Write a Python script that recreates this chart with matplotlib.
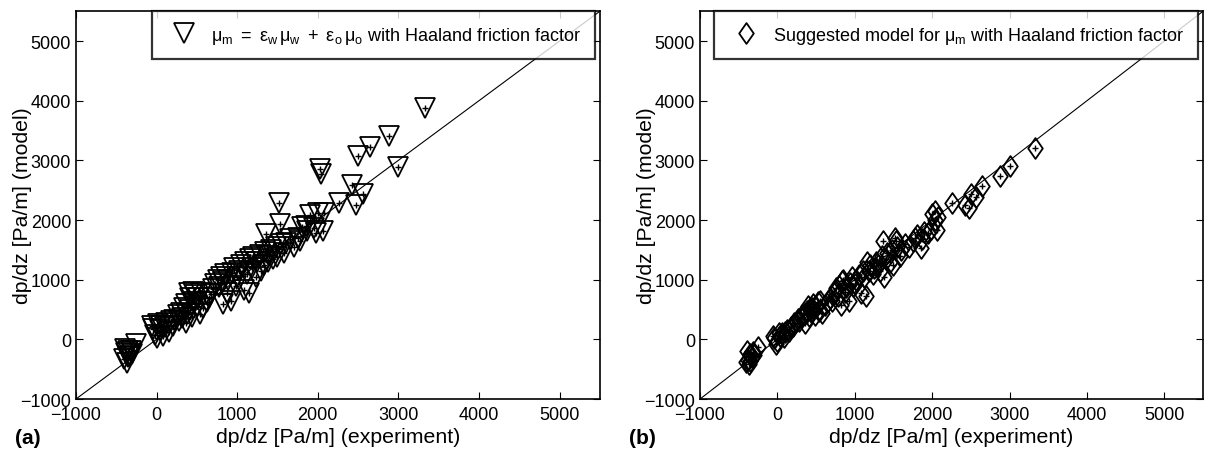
import matplotlib
matplotlib.use("Agg")
import matplotlib.pyplot as plt
from matplotlib.path import Path

plt.rcParams["font.family"] = ["Liberation Sans", "DejaVu Sans"]
plt.rcParams["mathtext.fontset"] = "custom"
plt.rcParams["mathtext.rm"] = "Liberation Sans"
plt.rcParams["mathtext.it"] = "Liberation Sans:italic"

# measured pressure gradient (experiment) [Pa/m]
exp_dpdz = [
    -400, -380, -370, -350, -330, -390, -300, -250, -360, -320,
    -60, -40, -20, 0, 20, 40, 60, 80, 100, 120, 150, 180, 200, 220,
    260, 280, 300, 320, 340, 360, 370, 380, 400, 410, 420, 440, 450, 460,
    480, 500, 520, 540, 550, 570,
    620, 650, 680, 700, 730, 760, 780, 800, 820, 830, 850, 870, 890, 920,
    940, 960, 980, 1000,
    1020, 1050, 1080, 1100, 1120, 1150, 1160, 1180, 1200, 1230, 1250, 1280,
    1300, 1330, 1350, 1380, 1400,
    1420, 1450, 1480, 1500, 1520, 1530, 1550, 1580, 1600, 1650, 1700, 1750,
    1780, 1800, 1850, 1870, 1900, 1950, 1980, 2000, 2030, 2040, 2060, 2080, 1360,
    2260, 2430, 2480, 2500, 2560, 2650, 2880, 3000, 3330,
]

# model (a): mixture viscosity as volume-weighted average
model_a = [
    -330, -230, -400, -200, -280, -170, -240, -70, -300, -190,
    230, 180, 80, 30, 260, 150, 230, 60, 200, 280, 120, 300, 230, 330,
    400, 300, 450, 350, 520, 280, 600, 430, 770, 500, 690, 370, 800, 620,
    740, 560, 700, 430, 780, 520,
    620, 700, 760, 850, 920, 1000, 880, 1050, 600, 960, 1100, 770, 1000, 650,
    1120, 1200, 900, 1050,
    1150, 1250, 830, 1300, 1100, 780, 1350, 1200, 1380, 1050, 1300, 1420,
    1150, 1250, 1460, 1300, 1400,
    1500, 1350, 1550, 1380, 2290, 1930, 1600, 1450, 1620, 1680, 1550, 1700,
    1650, 1880, 1900, 1820, 2080, 1870, 1780, 2110, 2860, 2770, 1820, 2110, 1760,
    2280, 2580, 2250, 3080, 2430, 3220, 3400, 2890, 3870,
]

# model (b): suggested mixture viscosity model
model_b = [
    -380, -350, -420, -250, -300, -200, -260, -130, -360, -220,
    60, 20, -80, -30, 110, 60, 100, 40, 130, 160, 140, 200, 220, 280,
    340, 300, 380, 400, 420, 280, 440, 480, 560, 390, 500, 460, 520, 600,
    400, 540, 620, 480, 650, 450,
    580, 650, 700, 640, 780, 860, 720, 900, 580, 980, 1000, 800, 880, 640,
    950, 1050, 900, 920,
    1000, 1080, 780, 1150, 1050, 720, 1300, 1150, 1250, 1100, 1200, 1300,
    1250, 1150, 1400, 1050, 1350,
    1450, 1300, 1500, 1250, 1700, 1650, 1550, 1400, 1500, 1600, 1550, 1650,
    1700, 1750, 1530, 1680, 1800, 1780, 1850, 2100, 2150, 2000, 1830, 2050, 1650,
    2290, 2250, 2200, 2430, 2380, 2570, 2740, 2900, 3200,
]

ticks = [-1000, 0, 1000, 2000, 3000, 4000, 5000]
lims = (-1000, 5500)

diamond = Path([(0, 1), (0.7, 0), (0, -1), (-0.7, 0), (0, 1)],
               [Path.MOVETO, Path.LINETO, Path.LINETO, Path.LINETO, Path.CLOSEPOLY])

fig = plt.figure(figsize=(12.27, 4.52), dpi=100)
ax_a = fig.add_axes([0.0619, 0.115, 0.427, 0.858])
ax_b = fig.add_axes([0.5705, 0.115, 0.410, 0.858])

panels = [
    (ax_a, model_a, "v", 14,
     r"$\mathrm{\mu_m\ =\ \varepsilon_w\,\mu_w\ +\ \varepsilon_o\,\mu_o}$ with Haaland friction factor",
     "(a)", -0.084, -0.116),
    (ax_b, model_b, diamond, 15,
     r"Suggested model for $\mathrm{\mu_m}$ with Haaland friction factor",
     "(b)", -0.087, -0.141),
]

for ax, model, mk, ms, label, tag, ylab_x, tag_x in panels:
    ax.plot(lims, lims, color="black", lw=0.8, zorder=1)
    ax.plot(exp_dpdz, model, linestyle="none", marker=mk, ms=ms,
            mfc="none", mec="black", mew=1.3, label=label, zorder=2)
    ax.plot(exp_dpdz, model, linestyle="none", marker="+", ms=5,
            color="black", mew=1.0, zorder=3)
    ax.set_xlim(lims)
    ax.set_ylim(lims)
    ax.set_xticks(ticks)
    ax.set_yticks(ticks)
    ax.tick_params(direction="in", top=True, right=True, labelsize=13,
                   length=5, width=0.8)
    ax.tick_params(axis="x", pad=5)
    for s in ax.spines.values():
        s.set_linewidth(1.2)
    ax.set_xlabel("dp/dz [Pa/m] (experiment)", fontsize=15.3, labelpad=3)
    ax.set_ylabel("dp/dz [Pa/m] (model)", fontsize=15.3)
    ax.yaxis.set_label_coords(ylab_x, 0.5)
    leg = ax.legend(loc="upper right", bbox_to_anchor=(0.99, 1.0),
                    borderaxespad=0, fontsize=13.0, fancybox=False,
                    handletextpad=0.5, borderpad=0.75, markerscale=1.0)
    leg.get_frame().set_edgecolor("black")
    leg.get_frame().set_linewidth(1.6)
    ax.text(tag_x, -0.1, tag, transform=ax.transAxes, fontsize=15,
            fontweight="bold", ha="left", va="center")

fig.savefig("out.png", dpi=100)
